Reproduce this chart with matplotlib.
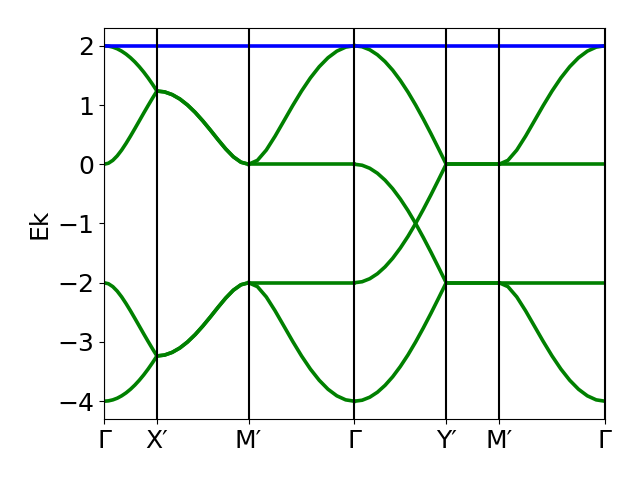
"""Band structure along the path G-X'-M'-G-Y'-M'-G"""
import numpy as np
import matplotlib
matplotlib.use("Agg")
import matplotlib.pyplot as plt

# high symmetry points and the length of each path segment
labels = ["Γ", "X′", "M′", "Γ", "Y′", "M′", "Γ"]
seg_lengths = [0.5, 0.866, 1.0, 0.866, 0.5, 1.0]

# fractional position of the samples inside each segment
t_frac = [0, 1/12, 2/12, 3/12, 4/12, 5/12, 6/12, 7/12, 8/12, 9/12, 10/12, 11/12, 1]

flat0 = [0.0] * 13
flatm2 = [-2.0] * 13

# Γ -> X'
g_x_b1 = [2.000, 1.994, 1.977, 1.949, 1.909, 1.859, 1.798, 1.727, 1.646, 1.556, 1.457, 1.350, 1.236]
g_x_b2 = [0.000, 0.017, 0.066, 0.142, 0.239, 0.352, 0.474, 0.602, 0.732, 0.863, 0.991, 1.116, 1.236]
g_x_b3 = [-2.000, -2.017, -2.066, -2.142, -2.239, -2.352, -2.474, -2.602, -2.732, -2.863, -2.991, -3.116, -3.236]
g_x_b4 = [-4.000, -3.994, -3.977, -3.949, -3.909, -3.859, -3.798, -3.727, -3.646, -3.556, -3.457, -3.350, -3.236]

# X' -> M' (bands pairwise degenerate)
x_m_up = [1.236, 1.221, 1.175, 1.101, 1.000, 0.876, 0.732, 0.576, 0.414, 0.259, 0.126, 0.034, 0.000]
x_m_dn = [-3.236, -3.221, -3.175, -3.101, -3.000, -2.876, -2.732, -2.576, -2.414, -2.259, -2.126, -2.034, -2.000]

# M' -> Γ
m_g_up = [0.000, 0.066, 0.239, 0.474, 0.732, 0.991, 1.236, 1.457, 1.646, 1.798, 1.909, 1.977, 2.000]
m_g_dn = [-2.000, -2.066, -2.239, -2.474, -2.732, -2.991, -3.236, -3.457, -3.646, -3.798, -3.909, -3.977, -4.000]

# Γ -> Y'
g_y_b1 = [2.000, 1.983, 1.932, 1.848, 1.732, 1.587, 1.414, 1.218, 1.000, 0.765, 0.518, 0.261, 0.000]
g_y_b2 = [0.000, -0.017, -0.068, -0.152, -0.268, -0.413, -0.586, -0.782, -1.000, -1.235, -1.482, -1.739, -2.000]
g_y_b3 = [-2.000, -1.983, -1.932, -1.848, -1.732, -1.587, -1.414, -1.218, -1.000, -0.765, -0.518, -0.261, 0.000]
g_y_b4 = [-4.000, -3.983, -3.932, -3.848, -3.732, -3.587, -3.414, -3.218, -3.000, -2.765, -2.518, -2.261, -2.000]

segments = [
    [g_x_b1, g_x_b2, g_x_b3, g_x_b4],
    [x_m_up, x_m_up, x_m_dn, x_m_dn],
    [m_g_up, flat0, flatm2, m_g_dn],
    [g_y_b1, g_y_b2, g_y_b3, g_y_b4],
    [flat0, flat0, flatm2, flatm2],
    [m_g_up, flat0, flatm2, m_g_dn],
]
flat_band = 2.0

ticks = np.concatenate([[0], np.cumsum(seg_lengths)])

fig, ax = plt.subplots(figsize=(6.4, 4.8), dpi=100)
fig.subplots_adjust(left=0.1625, right=0.9453, top=0.9417, bottom=0.1271)

for i, bands in enumerate(segments):
    k = ticks[i] + seg_lengths[i] * np.array(t_frac)
    for band in bands:
        ax.plot(k, band, color="green", linewidth=2.6, zorder=2)

ax.plot([ticks[0], ticks[-1]], [flat_band, flat_band], color="blue", linewidth=2.6, zorder=3)

for x in ticks:
    ax.axvline(x, color="black", linewidth=1.5, zorder=4)

ax.set_xlim(ticks[0], ticks[-1])
ax.set_ylim(-4.3, 2.3)
ax.set_xticks(ticks)
ax.set_xticklabels(labels)
ax.set_yticks([-4, -3, -2, -1, 0, 1, 2])
ax.tick_params(labelsize=18)
ax.set_ylabel("Ek", fontsize=18)

fig.savefig("out.png")
